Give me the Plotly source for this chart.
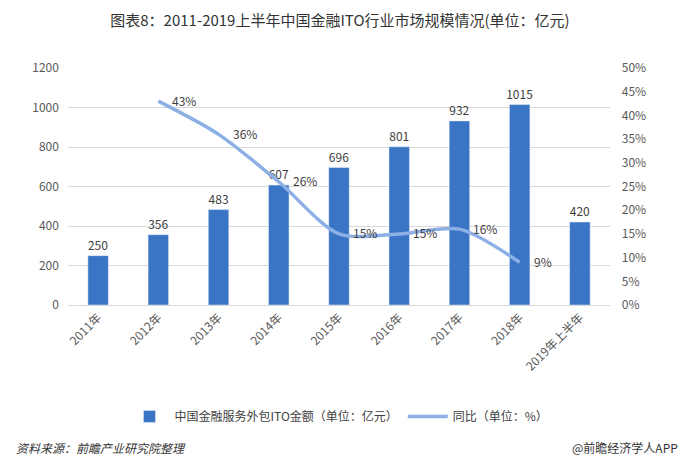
import plotly.graph_objects as go

categories = ["2011年", "2012年", "2013年", "2014年", "2015年", "2016年", "2017年", "2018年", "2019年上半年"]
amounts = [250, 356, 483, 607, 696, 801, 932, 1015, 420]
growth_cats = ["2012年", "2013年", "2014年", "2015年", "2016年", "2017年", "2018年"]
growth = [43, 36, 26, 15, 15, 16, 9]
growth_labels = ["43%", "36%", "26%", "15%", "15%", "16%", "9%"]

font = "Microsoft YaHei, Noto Sans CJK SC, sans-serif"

fig = go.Figure()
fig.add_trace(go.Bar(
    x=categories, y=amounts, name="中国金融服务外包ITO金额（单位：亿元）",
    marker=dict(color="#3a75c5"), width=0.34,
    text=[str(v) for v in amounts], textposition="outside", constraintext="none",
    textfont=dict(size=12, color="#404040"), cliponaxis=False,
))
fig.add_trace(go.Scatter(
    x=growth_cats, y=growth, name="同比（单位：%）", yaxis="y2",
    mode="lines", line=dict(color="#8cb0e6", width=3.5, shape="spline", smoothing=0.8),
    cliponaxis=False,
))
for c, v, t in zip(growth_cats, growth, growth_labels):
    fig.add_annotation(x=c, y=v, yref="y2", text=t, showarrow=False,
                       xanchor="left", xshift=12, yshift=1,
                       font=dict(size=12, color="#404040"))

fig.update_layout(
    width=680, height=463,
    margin=dict(l=68, r=70, t=68, b=158),
    paper_bgcolor="white", plot_bgcolor="white",
    font=dict(family=font, size=12, color="#595959"),
    title=dict(text="图表8：2011-2019上半年中国金融ITO行业市场规模情况(单位：亿元)",
               x=0.5, xanchor="center", y=0.955, yanchor="middle",
               font=dict(size=15, color="#333333")),
    bargap=0.5,
    xaxis=dict(tickangle=-45, showgrid=False, showline=True, linecolor="#d9d9d9",
               tickfont=dict(size=12, color="#595959"), ticks=""),
    yaxis=dict(range=[0, 1200], dtick=200, showgrid=True, gridcolor="#d9d9d9",
               zeroline=False, tickfont=dict(size=12, color="#595959"), ticksuffix="   "),
    yaxis2=dict(range=[0, 50], dtick=5, overlaying="y", side="right", showgrid=False,
                ticksuffix="%", tickprefix="    ", zeroline=False,
                tickfont=dict(size=12, color="#595959")),
    legend=dict(orientation="h", x=0.5, xanchor="center", y=-0.47, yanchor="middle",
                font=dict(size=12, color="#404040"), itemwidth=40),
    showlegend=True,
)

fig.add_annotation(text="<i>资料来源：前瞻产业研究院整理</i>", xref="paper", yref="paper",
                   x=-0.1, xanchor="left", y=-0.6, yanchor="middle", showarrow=False,
                   font=dict(size=12, color="#333333"))
fig.add_annotation(text="@前瞻经济学人APP", xref="paper", yref="paper",
                   x=1.13, xanchor="right", y=-0.6, yanchor="middle", showarrow=False,
                   font=dict(size=12, color="#333333"))

fig.write_html("out.html")
